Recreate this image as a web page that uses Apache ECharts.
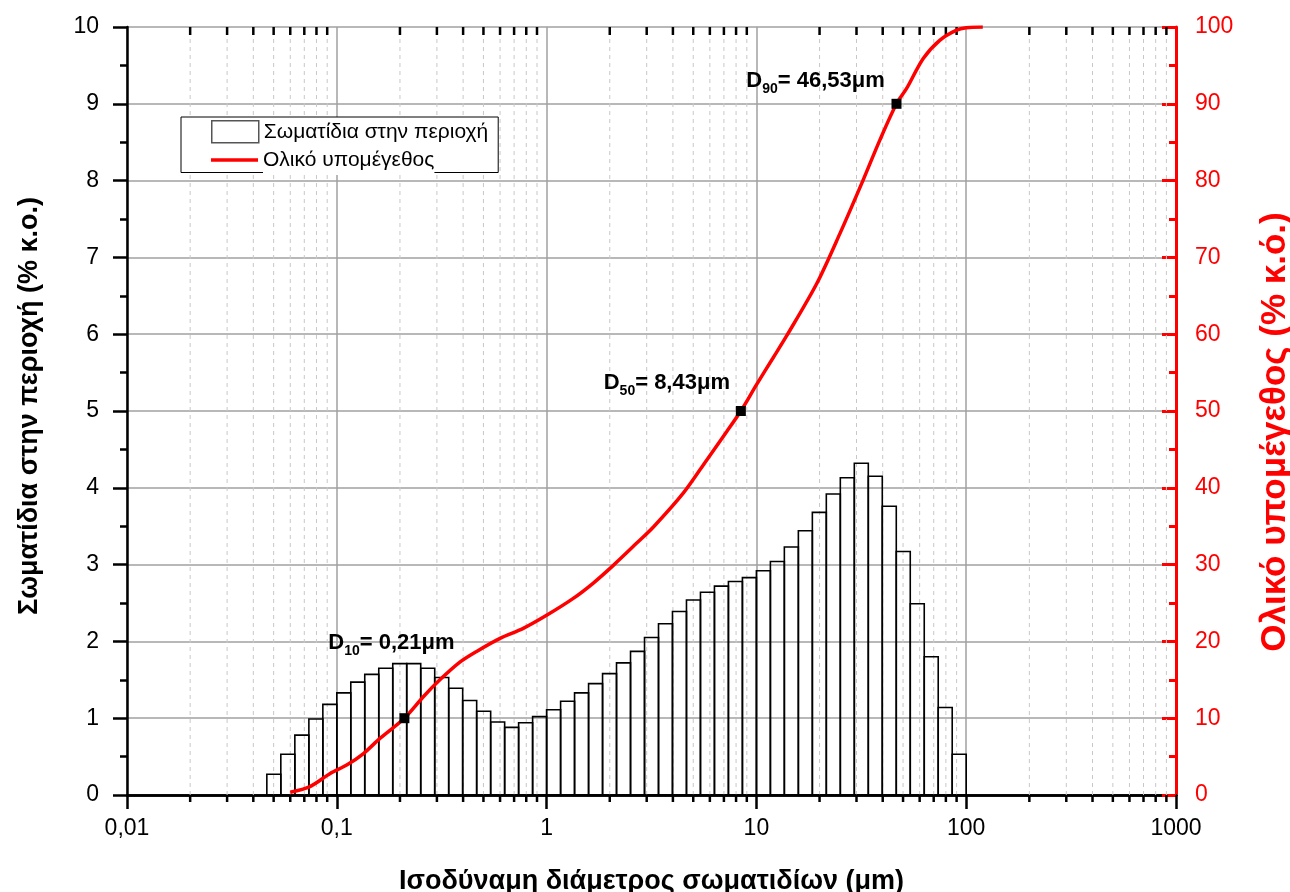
<!DOCTYPE html>
<html>
<head>
<meta charset="utf-8">
<title>Κατανομή μεγέθους σωματιδίων</title>
<script src="https://cdn.jsdelivr.net/npm/echarts@6/dist/echarts.min.js"></script>
<style>
  html, body { margin: 0; padding: 0; background: #fff; }
  #chartContainer { width: 1290px; height: 892px; }
</style>
</head>
<body>
<div id="chartContainer"></div>
<script>
// ============================================================
// DATA
// Histogram bins are 15 per decade on a log axis (edges in μm)
// ============================================================

const binEdges = [
  0.0464, 0.0541, 0.0631, 0.0736, 0.0858,
  0.1, 0.1166, 0.1359, 0.1585, 0.1848, 0.2154, 0.2512, 0.2929, 0.3415, 0.3981,
  0.4642, 0.5412, 0.6310, 0.7356, 0.8577,
  1, 1.166, 1.359, 1.585, 1.848, 2.154, 2.512, 2.929, 3.415, 3.981,
  4.642, 5.412, 6.310, 7.356, 8.577,
  10, 11.66, 13.59, 15.85, 18.48, 21.54, 25.12, 29.29, 34.15, 39.81,
  46.42, 54.12, 63.10, 73.56, 85.77,
  100
];

// % by volume in each bin (left axis)
const binValues = [
  0.27, 0.53, 0.78, 0.99, 1.18,
  1.33, 1.47, 1.57, 1.65, 1.71, 1.71, 1.65, 1.53, 1.39, 1.23,
  1.09, 0.95, 0.88, 0.94, 1.02,
  1.11, 1.22, 1.33, 1.45, 1.58, 1.72, 1.87, 2.05, 2.23, 2.39,
  2.54, 2.64, 2.72, 2.78, 2.83,
  2.92, 3.04, 3.23, 3.44, 3.68, 3.92, 4.13, 4.32, 4.15, 3.76,
  3.17, 2.49, 1.80, 1.14, 0.53
];

// Cumulative undersize curve (right axis)
const cumDiameters = [
  0.06, 0.0745, 0.093, 0.1115, 0.134, 0.161, 0.21, 0.2585, 0.31, 0.386,
  0.464, 0.6, 0.774, 1.0, 1.34, 1.67, 2.08, 2.69, 3.23,
  4.48, 5.79, 7.21, 8.43, 10.0, 12.0, 13.95, 19.4, 25.0, 32.3,
  38.8, 46.53, 52, 62.4, 75, 90, 100, 120
];
const cumPercent = [
  0.35, 1.1, 2.8, 3.9, 5.4, 7.4, 10, 12.8, 15.0, 17.3,
  18.7, 20.4, 21.7, 23.4, 25.6, 27.6, 29.9, 32.8, 34.9,
  39.3, 43.6, 47.3, 50, 53.4, 56.9, 59.8, 66.6, 73.1, 80.1,
  85.3, 90, 92.0, 95.9, 98.3, 99.6, 99.9, 100
];

// D10 / D50 / D90 markers
const dNames = ['10', '50', '90'];
const dDiameters = [0.21, 8.43, 46.53];
const dPercent = [10, 50, 90];
const dTexts = ['0,21μm', '8,43μm', '46,53μm'];

const xTickLabels = ['0,01', '0,1', '1', '10', '100', '1000'];

const histName = 'Σωματίδια στην περιοχή';
const cumName = 'Ολικό υπομέγεθος';

// ============================================================
// BUILD SERIES DATA
// ============================================================

const histData = binValues.map(function(v, i) {
  return [binEdges[i], binEdges[i + 1], v];
});

const cumData = cumDiameters.map(function(d, i) { return [d, cumPercent[i]]; });

// minor ticks 2..9 in each decade
const minorTicks = [];
for (let dec = -2; dec < 3; dec++) {
  for (let m = 2; m <= 9; m++) {
    minorTicks.push([+(m * Math.pow(10, dec)).toPrecision(3)]);
  }
}

const labelOffsets = [[-13, -75], [-74, -28], [-81, -23]];
const markerData = dDiameters.map(function(d, i) {
  return {
    value: [d, dPercent[i]],
    label: {
      offset: labelOffsets[i],
      formatter: '{d|D}{sub|' + dNames[i] + '}{d|= ' + dTexts[i] + '}'
    }
  };
});

const FONT = '"Liberation Sans", Arial, sans-serif';

// ============================================================
// RENDER
// ============================================================

const chartInstance = echarts.init(document.getElementById('chartContainer'));

chartInstance.setOption({
  animation: false,
  textStyle: { fontFamily: FONT },
  grid: { left: 127, right: 114, top: 27, bottom: 97, containLabel: false, outerBoundsMode: 'none' },
  legend: [
    {
      // box + histogram entry; bottom padding leaves room for the line entry
      left: 181,
      top: 117,
      z: 10,
      orient: 'vertical',
      padding: [3, 10, 29, 30],
      itemWidth: 47,
      itemHeight: 22,
      backgroundColor: '#fff',
      borderColor: '#000',
      borderWidth: 1,
      borderRadius: 0,
      selectedMode: false,
      textStyle: { fontSize: 21, color: '#000', fontFamily: FONT },
      data: [
        { name: histName, icon: 'rect', itemStyle: { color: '#fff', borderColor: '#555', borderWidth: 1.5 } }
      ]
    },
    {
      left: 181,
      top: 145,
      z: 11,
      orient: 'vertical',
      padding: [0, 0, 0, 30],
      itemWidth: 47,
      itemHeight: 22,
      selectedMode: false,
      textStyle: {
        fontSize: 21, color: '#000', fontFamily: FONT,
        backgroundColor: '#fff', padding: [1, 0, 8, 0]
      },
      data: [
        { name: cumName, icon: 'path://M0,0H470V36H0Z', symbolKeepAspect: true, itemStyle: { color: '#ff0000', borderWidth: 0 } }
      ]
    }
  ],
  xAxis: [
    {
      type: 'log',
      logBase: 10,
      min: 0.01,
      max: 1000,
      position: 'bottom',
      name: 'Ισοδύναμη διάμετρος σωματιδίων (μm)',
      nameLocation: 'middle',
      nameGap: 73,
      nameTextStyle: { fontSize: 27, fontWeight: 'bold', color: '#000', fontFamily: FONT },
      axisLine: { lineStyle: { color: '#000', width: 2.5 } },
      axisTick: { inside: false, length: 14, lineStyle: { color: '#000', width: 2.5 } },
      axisLabel: {
        fontSize: 23, color: '#000', margin: 22, fontFamily: FONT,
        formatter: function(v) {
          const idx = Math.round(Math.log10(v)) + 2;
          return xTickLabels[idx];
        }
      },
      splitLine: { show: true, lineStyle: { color: '#a0a0a0', width: 1.5 } }
    },
    {
      type: 'log',
      logBase: 10,
      min: 0.01,
      max: 1000,
      position: 'top',
      axisLine: { lineStyle: { color: '#000', width: 2.5 } },
      axisTick: { inside: true, length: 14, lineStyle: { color: '#000', width: 2.5 } },
      axisLabel: { show: false },
      splitLine: { show: false }
    }
  ],
  yAxis: [
    {
      type: 'value',
      min: 0,
      max: 10,
      interval: 1,
      position: 'left',
      name: 'Σωματίδια στην περιοχή (% κ.ο.)',
      nameLocation: 'middle',
      nameGap: 84,
      nameTextStyle: { fontSize: 27, fontWeight: 'bold', color: '#000', fontFamily: FONT, padding: [0, 0, 0, 10] },
      axisLine: { show: true, lineStyle: { color: '#000', width: 2.5 } },
      axisTick: { show: true, inside: false, length: 14, lineStyle: { color: '#000', width: 2.5 } },
      minorTick: { show: true, splitNumber: 2, length: 7, lineStyle: { color: '#000', width: 2.5 } },
      axisLabel: { fontSize: 23, color: '#000', margin: 28, fontFamily: FONT },
      splitLine: { show: true, lineStyle: { color: '#a0a0a0', width: 1.5 } }
    },
    {
      type: 'value',
      min: 0,
      max: 100,
      interval: 10,
      position: 'right',
      name: 'Ολικό υπομέγεθος (% κ.ό.)',
      nameLocation: 'middle',
      nameGap: 82,
      nameTextStyle: { fontSize: 35, fontWeight: 'bold', color: '#ff0000', fontFamily: FONT, padding: [0, 42, 0, 0] },
      axisLine: { show: true, lineStyle: { color: '#ff0000', width: 3 } },
      axisTick: { show: true, inside: true, length: 14, lineStyle: { color: '#ff0000', width: 3 } },
      minorTick: { show: true, splitNumber: 2, length: 7, lineStyle: { color: '#ff0000', width: 3 } },
      axisLabel: { fontSize: 23, color: '#ff0000', margin: 19, fontFamily: FONT },
      splitLine: { show: false }
    }
  ],
  series: [
    // minor vertical grid lines + minor ticks on bottom and top axes
    {
      type: 'custom',
      name: 'minor',
      silent: true,
      clip: false,
      z: 1,
      data: minorTicks,
      encode: { x: 0 },
      renderItem: function(params, api) {
        const x = api.value(0);
        const bottom = api.coord([x, 0]);
        const top = api.coord([x, 10]);
        return {
          type: 'group',
          children: [
            {
              type: 'line',
              shape: { x1: bottom[0], y1: bottom[1], x2: top[0], y2: top[1] },
              style: { stroke: '#c8c8c8', lineWidth: 1, lineDash: [4, 4] }
            },
            {
              type: 'line',
              shape: { x1: bottom[0], y1: bottom[1], x2: bottom[0], y2: bottom[1] + 7 },
              style: { stroke: '#000', lineWidth: 2.5 }
            },
            {
              type: 'line',
              shape: { x1: top[0], y1: top[1], x2: top[0], y2: top[1] + 8 },
              style: { stroke: '#000', lineWidth: 2.5 }
            }
          ]
        };
      }
    },
    // histogram bars
    {
      type: 'custom',
      name: histName,
      z: 3,
      data: histData,
      encode: { x: [0, 1], y: 2 },
      itemStyle: { color: '#fff', borderColor: '#555' },
      renderItem: function(params, api) {
        const p0 = api.coord([api.value(0), api.value(2)]);
        const p1 = api.coord([api.value(1), 0]);
        return {
          type: 'rect',
          shape: { x: p0[0], y: p0[1], width: p1[0] - p0[0], height: p1[1] - p0[1] },
          style: { fill: 'none', stroke: '#000', lineWidth: 1.6 }
        };
      }
    },
    // cumulative undersize
    {
      type: 'line',
      name: cumName,
      yAxisIndex: 1,
      z: 4,
      data: cumData,
      smooth: 0.3,
      symbol: 'none',
      lineStyle: { color: '#ff0000', width: 3.5 },
      itemStyle: { color: '#ff0000' }
    },
    // D10, D50, D90 markers
    {
      type: 'scatter',
      name: 'D',
      yAxisIndex: 1,
      z: 5,
      symbol: 'rect',
      symbolSize: 10,
      itemStyle: { color: '#000', opacity: 1 },
      data: markerData,
      label: {
        show: true,
        position: 'inside',
        color: '#000',
        rich: {
          d: { fontSize: 22, fontWeight: 'bold', color: '#000', lineHeight: 30, fontFamily: FONT },
          sub: { fontSize: 14, fontWeight: 'bold', color: '#000', lineHeight: 14, verticalAlign: 'bottom', fontFamily: FONT }
        }
      }
    }
  ]
});
</script>
</body>
</html>
